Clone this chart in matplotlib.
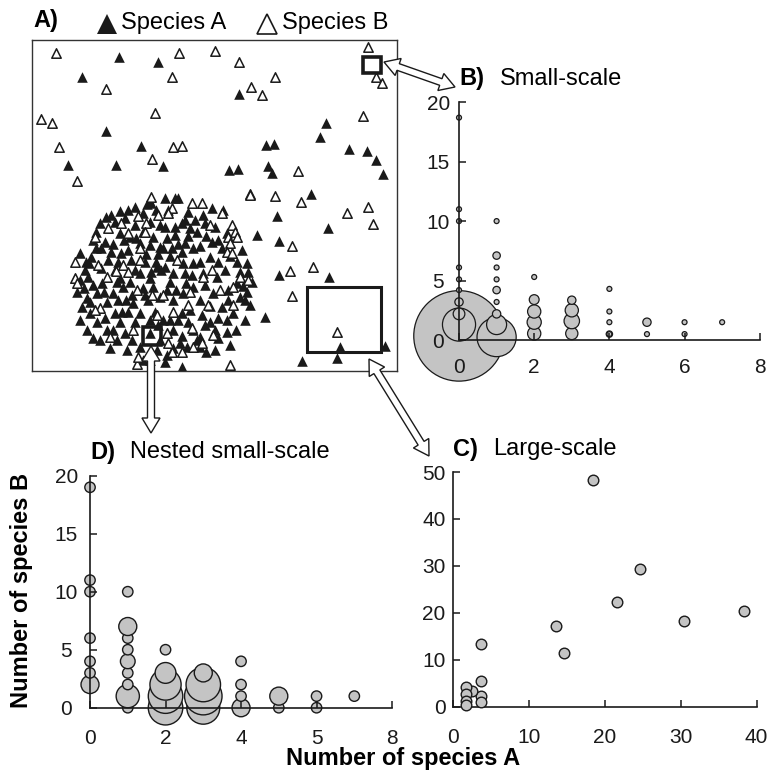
import numpy as np
import matplotlib
matplotlib.use("Agg")
import matplotlib.pyplot as plt
from matplotlib.patches import Polygon, Rectangle
from matplotlib.lines import Line2D

plt.rcParams['font.family'] = ['Liberation Sans', 'DejaVu Sans']

# ---------- data ----------
# A) map of individuals (map units = position in the plot frame)
spA_x = [119, 158, 82, 239, 106, 141, 116, 163, 68, 326, 320, 266, 274, 349, 367, 376, 383, 229, 238, 268,
         272, 311, 277, 328, 257, 279, 279, 329, 265, 340, 337, 385, 302, 182,
         147, 151, 135, 120, 128, 143, 111, 106, 100, 125, 115, 135, 150, 156, 160, 96, 120, 130, 143, 153,
         93, 105, 136, 101, 111, 121, 128, 150, 160, 80, 91, 108, 118, 131, 145, 156, 85, 101, 115, 135,
         151, 161, 75, 88,
         165, 175, 178, 168, 188, 203, 212, 223, 185, 195, 205, 215, 165, 175, 182, 190, 227, 175, 167, 185,
         212, 218, 163, 172, 193, 182, 242, 210, 218, 200, 237, 247, 183, 165, 203, 192, 248, 173,
         77, 87, 82, 97, 107, 115, 122, 97, 113, 93, 125, 132, 133, 143, 153, 140, 155, 167, 173, 163,
         173, 160, 182, 183, 193, 200, 202, 213, 222, 240, 237, 247, 210, 193, 200, 218, 227, 187, 173, 157,
         167, 140, 127, 117, 107, 90, 87, 233, 227, 200, 180, 150, 143, 197, 102, 123, 113, 93, 140, 157,
         193, 217, 185,
         126, 148, 190, 210, 228, 250, 245, 215, 230, 120, 135, 178, 158, 188, 105, 80, 120, 130, 150, 170,
         205, 225, 240,
         86, 96, 113, 124, 140, 146, 158, 170, 178, 188, 197, 206, 200, 222, 230, 252, 243, 228, 218, 205,
         182, 170, 150, 128, 118, 104, 90, 84, 100, 110, 150, 165, 206, 215, 236, 245, 186, 176, 160, 145,
         132, 117, 80, 89]
spA_y = [57, 62, 77, 94, 131, 146, 165, 166, 165, 123, 137, 145, 144, 149, 151, 160, 174, 170, 169, 166,
         173, 194, 216, 228, 235, 241, 275, 277, 317, 347, 358, 346, 361, 367,
         204, 203, 207, 211, 210, 213, 215, 217, 223, 218, 222, 225, 222, 210, 225, 232, 233, 237, 232, 237,
         240, 242, 238, 248, 252, 253, 250, 245, 247, 253, 257, 260, 262, 260, 262, 262, 270, 268, 270, 270,
         272, 270, 278, 277,
         198, 198, 198, 210, 212, 215, 208, 210, 220, 220, 223, 227, 227, 227, 223, 228, 233, 235, 238, 243,
         242, 240, 248, 248, 248, 252, 250, 257, 262, 262, 262, 263, 263, 267, 273, 275, 272, 273,
         292, 298, 307, 293, 302, 313, 312, 322, 330, 338, 333, 340, 303, 288, 287, 313, 312, 290, 300, 320,
         330, 340, 313, 293, 287, 300, 315, 293, 307, 297, 283, 292, 322, 330, 347, 338, 332, 347, 348, 350,
         355, 347, 350, 340, 330, 313, 330, 313, 320, 337, 343, 333, 360, 340, 283, 287, 293, 285, 273, 267,
         263, 277, 273,
         300, 300, 310, 306, 290, 305, 320, 350, 345, 322, 322, 320, 325, 322, 318, 320, 278, 282, 278, 282,
         285, 270, 272,
         262, 248, 244, 240, 243, 254, 254, 256, 244, 236, 232, 236, 246, 248, 256, 282, 286, 300, 318, 325,
         336, 320, 320, 312, 300, 292, 302, 288, 340, 348, 360, 362, 352, 330, 330, 300, 283, 290, 297, 295,
         295, 282, 280, 263]
spB_x = [56, 179, 215, 239, 172, 275, 106, 251, 262, 368, 376, 382, 155, 41, 52, 363, 59, 173, 182, 152,
         77, 298, 250, 275, 301, 368, 347, 373, 292, 290, 313, 292, 337, 230, 137, 138,
         151, 138, 108, 121, 146, 128, 145, 95, 140, 75, 98, 123, 140, 116, 128, 158, 250, 192, 202, 172,
         168, 222, 210, 232, 235, 237, 228, 230, 227, 232, 177, 212, 240, 75, 77, 107, 137, 152, 163, 190,
         203, 220, 233, 248, 233, 208, 188, 173, 100, 95, 110, 133, 157, 167, 192, 202, 182, 172, 168, 213,
         193]
spB_y = [53, 53, 51, 62, 77, 77, 89, 87, 95, 47, 77, 83, 113, 119, 123, 116, 147, 147, 146, 159,
         181, 171, 194, 196, 202, 207, 213, 224, 246, 271, 267, 296, 332, 365, 364, 357,
         197, 216, 228, 223, 223, 233, 232, 237, 248, 262, 265, 265, 260, 271, 272, 215, 195, 203, 203, 208,
         213, 213, 225, 225, 232, 237, 237, 243, 252, 253, 260, 270, 277, 278, 283, 277, 290, 295, 295, 292,
         277, 290, 287, 280, 305, 305, 305, 312, 308, 310, 337, 330, 315, 333, 328, 343, 352, 352, 343, 335,
         347]

# B) small-scale quadrats: species A count, species B count, number of quadrats
B_a = [0, 0, 0, 0, 0, 0, 0, 0, 0, 0,
       1, 1, 1, 1, 1, 1, 1, 1, 1,
       2, 2, 2, 2, 2,
       3, 3, 3, 3,
       4, 4, 4, 4, 4,
       5, 5, 6, 6, 7]
B_b = [0.35, 1.3, 2.2, 3.2, 4.2, 5.1, 6.1, 10, 11, 18.7,
       0.25, 1.3, 2.2, 3.2, 4.2, 5.1, 6.1, 7.1, 10,
       0.55, 1.5, 2.4, 3.4, 5.3,
       0.55, 1.6, 2.5, 3.35,
       0.5, 0.5, 1.5, 2.4, 4.3,
       0.5, 1.5, 0.5, 1.5, 1.5]
B_n = [700, 88, 9, 4, 1, 1, 1, 1, 1, 1,
       125, 30, 4, 1, 3, 1, 1, 3, 1,
       12, 14, 12, 6, 1,
       10, 17, 12, 4,
       2, 1, 1, 1, 1,
       1, 4, 1, 1, 1]

# C) large-scale quadrats
C_a = [18.5, 24.6, 21.6, 30.4, 38.4, 13.6, 14.6, 3.7, 3.7, 3.7, 3.7, 2.6, 1.75, 1.75, 1.75, 1.75]
C_b = [48.2, 29.3, 22.4, 18.35, 20.4, 17.3, 11.5, 13.3, 5.4, 2.3, 1.1, 3.4, 4.3, 2.6, 1.3, 0.4]

# D) nested small-scale quadrats
D_a = [0, 0, 0, 0, 0, 0, 0,
       1, 1, 1, 1, 1, 1, 1, 1, 1,
       2, 2, 2, 2, 2,
       3, 3, 3, 3,
       4, 4, 4, 4,
       5, 5, 6, 6, 7]
D_b = [2, 3, 4, 6, 10, 11, 19,
       0, 1, 2, 3, 4, 5, 6, 7, 10,
       0, 1, 2, 3, 5,
       0, 1, 2, 3,
       0, 1, 2, 4,
       0, 1, 0, 1, 1]
D_n = [3, 1, 1, 1, 1, 1, 1,
       1, 5, 1, 1, 2, 1, 1, 3, 1,
       11, 11, 9, 4, 1,
       10, 13, 11, 3,
       3, 1, 1, 1,
       1, 3, 1, 1, 1]

B_ticks_x = [0, 2, 4, 6, 8]
small_ticks_y = [0, 5, 10, 15, 20]
D_ticks_x = [0, 2, 4, 6, 8]
D_ticklabels_x = ['0', '2', '4', '5', '8']
C_ticks_x = [0, 10, 20, 30, 40]
C_ticks_y = [0, 10, 20, 30, 40, 50]

# ---------- figure ----------
W, H = 768, 771
fig = plt.figure(figsize=(W / 100, H / 100), dpi=100)


def fpos(x, y):
    return x / W, 1 - y / H


def box(l, t, r, b):
    return [l / W, 1 - b / H, (r - l) / W, (b - t) / H]


grey = '#c4c4c4'
ink = '#1a1a1a'


def size_pts(r_px):
    return (1.44 * np.asarray(r_px)) ** 2


def style_axes(ax, xb, yb):
    ax.set_facecolor('none')
    for s in ['top', 'right']:
        ax.spines[s].set_visible(False)
    ax.spines['left'].set_position(('data', 0))
    ax.spines['bottom'].set_position(('data', 0))
    ax.spines['left'].set_bounds(*yb)
    ax.spines['bottom'].set_bounds(*xb)
    for s in ['left', 'bottom']:
        ax.spines[s].set_linewidth(1.2)
        ax.spines[s].set_color(ink)
        ax.spines[s].set_zorder(5)
    ax.tick_params(direction='in', length=5, width=1.1, labelsize=15, colors=ink)


# A) map
axA = fig.add_axes(box(32, 40, 397, 371))
axA.scatter(spA_x, spA_y, marker='^', s=58, c=ink, linewidths=0, zorder=2)
axA.scatter(spB_x, spB_y, marker='^', s=46, facecolors='white', edgecolors=ink, linewidths=1.1, zorder=3)
axA.add_patch(Rectangle((363, 57), 18, 16, fill=False, lw=2.6, ec=ink, zorder=4))
axA.add_patch(Rectangle((143, 327), 18, 18, fill=False, lw=2.6, ec=ink, zorder=4))
axA.add_patch(Rectangle((307, 287), 74, 65, fill=False, lw=2.2, ec=ink, zorder=4))
axA.set_xlim(32, 397)
axA.set_ylim(371, 40)
axA.set_xticks([])
axA.set_yticks([])
for s in axA.spines.values():
    s.set_linewidth(1.0)
    s.set_color('#333333')

# B) small-scale
axB = fig.add_axes(box(400, 95, 768, 400))
axB.scatter(B_a, B_b, s=size_pts(0.8 + 1.68 * np.sqrt(B_n)), c=grey, edgecolors=ink, linewidths=0.9, zorder=1)
axB.set_xlim(-1.57, 8.22)
axB.set_ylim(-5.04, 20.6)
style_axes(axB, (0, 8), (0, 20))
axB.set_xticks(B_ticks_x)
axB.set_yticks(small_ticks_y)
axB.tick_params(axis='x', pad=13)
axB.tick_params(axis='y', pad=15)
for t in axB.get_yticklabels():
    t.set_ha('center')

# D) nested small-scale
axD = fig.add_axes(box(60, 470, 400, 735))
axD.scatter(D_a, D_b, s=size_pts(5.2 * np.sqrt(D_n)), c=grey, edgecolors=ink, linewidths=1.0, zorder=1)
axD.set_xlim(-0.795, 8.21)
axD.set_ylim(-2.35, 20.49)
style_axes(axD, (0, 8), (0, 20))
axD.set_xticks(D_ticks_x)
axD.set_xticklabels(D_ticklabels_x)
axD.set_yticks(small_ticks_y)
axD.tick_params(axis='x', pad=15)
axD.tick_params(axis='y', pad=17)
for t in axD.get_yticklabels():
    t.set_ha('center')

# C) large-scale
axC = fig.add_axes(box(440, 465, 768, 735))
axC.scatter(C_a, C_b, s=size_pts(5.3), c=grey, edgecolors=ink, linewidths=1.0, zorder=6, clip_on=False)
axC.set_xlim(-1.67, 41.5)
axC.set_ylim(-6.03, 51.5)
style_axes(axC, (0, 40), (0, 50))
axC.set_xticks(C_ticks_x)
axC.set_yticks(C_ticks_y)
axC.tick_params(axis='x', pad=15.5)
axC.tick_params(axis='y', pad=5)

# ---------- texts ----------
fig.text(*fpos(33, 21), 'A)', fontsize=17, fontweight='bold', va='center')
fig.add_artist(Line2D([107 / W], [1 - 24 / H], marker='^', ms=15, color=ink, mew=0,
                      transform=fig.transFigure))
fig.add_artist(Line2D([267 / W], [1 - 24 / H], marker='^', ms=14, mfc='white', mec=ink, mew=1.2,
                      transform=fig.transFigure))
fig.text(*fpos(121, 23), 'Species A', fontsize=17, va='center')
fig.text(*fpos(282, 23), 'Species B', fontsize=17, va='center')
fig.text(*fpos(459, 79), 'B)', fontsize=17, fontweight='bold', va='center')
fig.text(*fpos(500, 79), 'Small-scale', fontsize=17, va='center')
fig.text(*fpos(453, 449), 'C)', fontsize=17, fontweight='bold', va='center')
fig.text(*fpos(493, 449), 'Large-scale', fontsize=17, va='center')
fig.text(*fpos(90, 452), 'D)', fontsize=17, fontweight='bold', va='center')
fig.text(*fpos(130, 452), 'Nested small-scale', fontsize=17, va='center')
fig.text(*fpos(403, 759), 'Number of species A', fontsize=17, fontweight='bold', ha='center', va='center')
fig.text(*fpos(22, 590), 'Number of species B', fontsize=17, fontweight='bold', ha='center', va='center',
         rotation=90)


# ---------- hollow double arrows ----------
def double_arrow(p0, p1, w=3.5, hw=9, hl=15):
    p0, p1 = np.array(p0, float), np.array(p1, float)
    d = p1 - p0
    u = d / np.hypot(*d)
    n = np.array([-u[1], u[0]])
    pts = [p0, p0 + u * hl + n * hw, p0 + u * hl + n * w, p1 - u * hl + n * w, p1 - u * hl + n * hw,
           p1, p1 - u * hl - n * hw, p1 - u * hl - n * w, p0 + u * hl - n * w, p0 + u * hl - n * hw]
    pts = [fpos(x, y) for x, y in pts]
    fig.add_artist(Polygon(pts, closed=True, fc='white', ec=ink, lw=1.0, transform=fig.transFigure,
                           zorder=10))


double_arrow((384, 62), (455, 87))
double_arrow((151, 346), (151, 433))
double_arrow((369, 359), (429, 456))

fig.savefig('out.png', dpi=100)
